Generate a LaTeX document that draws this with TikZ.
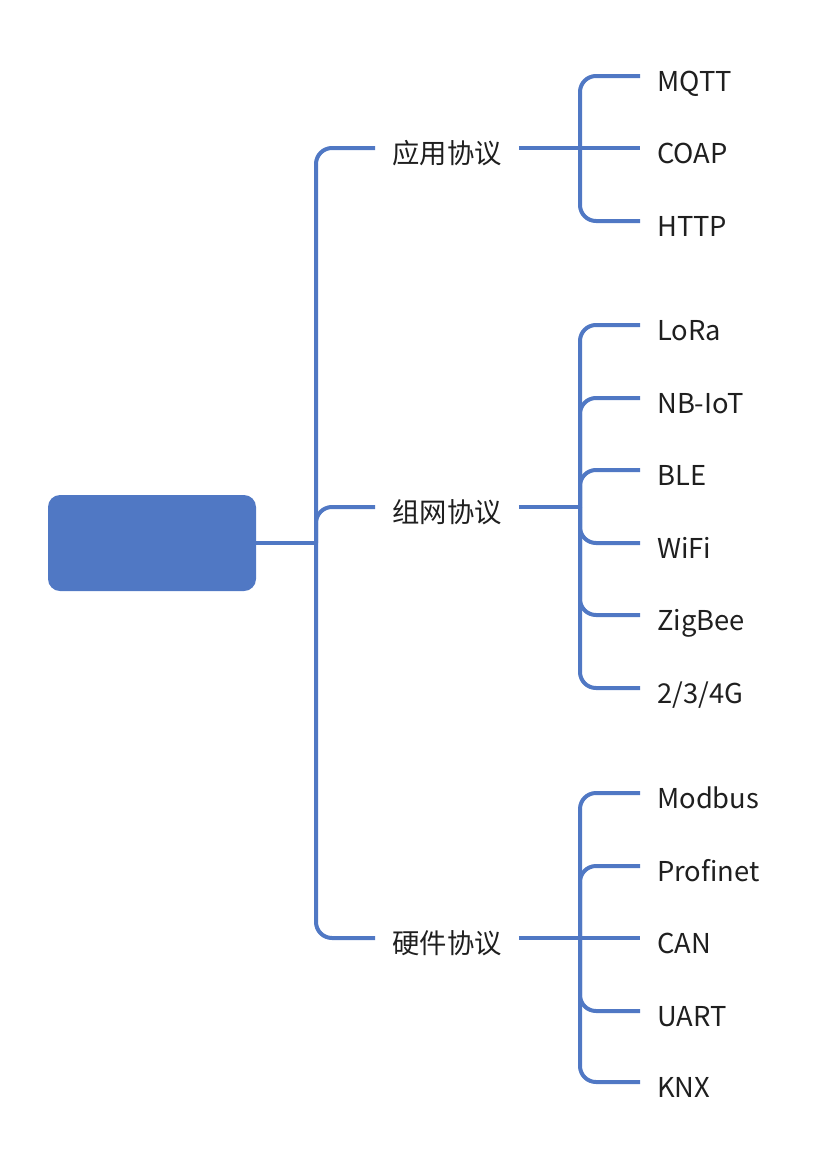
\documentclass[tikz,border=0pt]{standalone}
\usepackage{fontspec}
\setmainfont{Noto Sans CJK SC}
\definecolor{mblue}{RGB}{80,120,196}
\begin{document}
\begin{tikzpicture}[x=0.75pt,y=-0.75pt,
  lnk/.style={draw=mblue,line width=3pt,rounded corners=12pt},
  lvone/.style={inner xsep=12.75pt,inner ysep=0pt,text height=22.5pt,text depth=0pt,font=\fontsize{20.5pt}{24pt}\selectfont,text=black!88},
  leaf/.style={anchor=west,inner xsep=12.75pt,inner ysep=0pt,text height=22.5pt,text depth=0pt,font=\fontsize{20.5pt}{24pt}\selectfont,text=black!88},
  rootbox/.style={fill=mblue,rounded corners=9pt,minimum width=156pt,minimum height=72pt,inner sep=0pt}]
\useasboundingbox (0,0) rectangle (826,1160);
\node[rootbox] (root) at (152,543) {};
\coordinate (t) at (316,543);
\node[lvone] (app) at (447,148) {应用协议};
\node[lvone] (net) at (447,507) {组网协议};
\node[lvone] (hw)  at (447,938) {硬件协议};
\coordinate (s1) at (580,148);
\coordinate (s2) at (580,507);
\coordinate (s3) at (580,938);
\node[leaf] (mqtt) at (640,76) {MQTT};
\node[leaf] (coap) at (640,148) {COAP};
\node[leaf] (http) at (640,221) {HTTP};
\node[leaf] (lora) at (640,325) {LoRa};
\node[leaf] (nbiot) at (640,398) {NB-IoT};
\node[leaf] (ble) at (640,470) {BLE};
\node[leaf] (wifi) at (640,543) {WiFi};
\node[leaf] (zig) at (640,615) {ZigBee};
\node[leaf] (g234) at (640,688) {2/3/4G};
\node[leaf] (modbus) at (640,793) {Modbus};
\node[leaf] (profinet) at (640,866) {Profinet};
\node[leaf] (can) at (640,938) {CAN};
\node[leaf] (uart) at (640,1011) {UART};
\node[leaf] (knx) at (640,1082) {KNX};
% trunk
\draw[lnk] (root.east) -- (t);
\draw[lnk] (app.west) -| (t) |- (hw.west);
\draw[lnk] (t) |- (net.west);
% group 1
\draw[lnk] (app.east) -- (coap.west);
\draw[lnk] (mqtt.west) -| (s1) |- (http.west);
% group 2
\draw[lnk] (net.east) -- (s2);
\foreach \n in {lora,nbiot,ble,wifi,zig,g234} \draw[lnk] (s2) |- (\n.west);
% group 3
\draw[lnk] (hw.east) -- (can.west);
\foreach \n in {modbus,profinet,uart,knx} \draw[lnk] (s3) |- (\n.west);
\end{tikzpicture}
\end{document}
